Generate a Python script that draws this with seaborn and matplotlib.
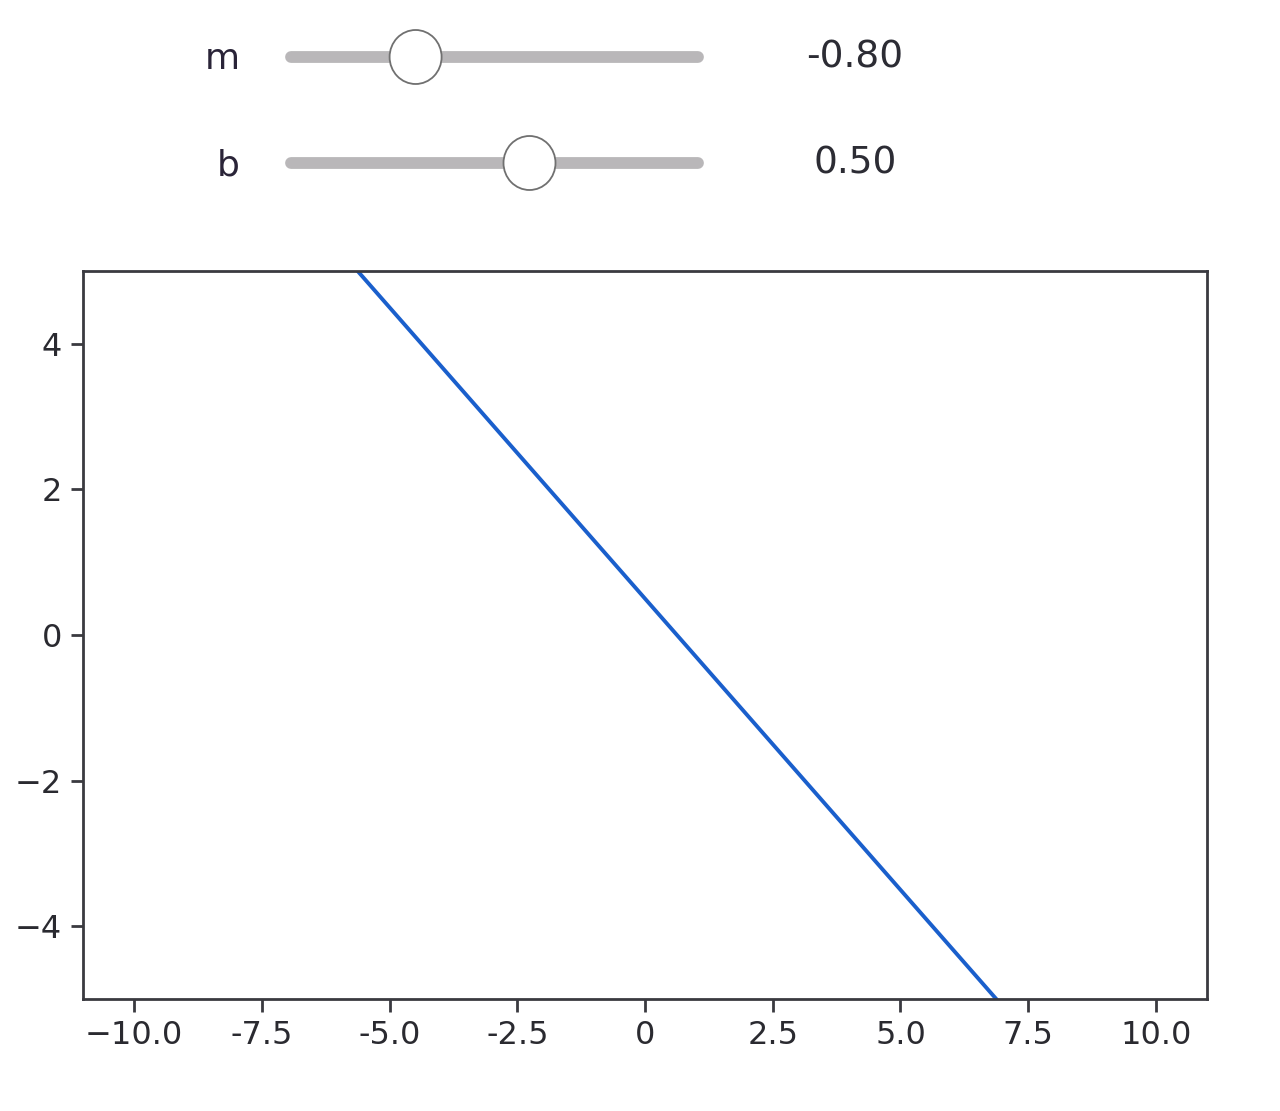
import numpy as np
import pandas as pd
import matplotlib
matplotlib.use('Agg')
import matplotlib.pyplot as plt
from matplotlib.patches import Ellipse
import seaborn as sns

# slider state
slider_names = ['m', 'b']
slider_values = [-0.80, 0.50]
slider_min = [-2.0, -3.0]
slider_max = [2.0, 3.0]

m = slider_values[0]
b = slider_values[1]
x_vals = np.linspace(-10, 10, 201)
data = pd.DataFrame({'x': x_vals, 'y': m * x_vals + b})

x_ticks = [-10.0, -7.5, -5.0, -2.5, 0, 2.5, 5.0, 7.5, 10.0]
x_tick_labels = ['\u221210.0', '-7.5', '-5.0', '-2.5', '0', '2.5', '5.0', '7.5', '10.0']
y_ticks = [-4, -2, 0, 2, 4]

sns.set_style('white')
plt.rcParams['font.family'] = ['DejaVu Sans']

W, H = 1280, 1111
fig = plt.figure(figsize=(W / 100, H / 100), dpi=100)

# widgets area in pixel coords
wax = fig.add_axes([0, 0, 1, 1])
wax.set_xlim(0, W)
wax.set_ylim(H, 0)
wax.axis('off')

track_x0, track_x1 = 291, 698
knob_x0, knob_x1 = 295, 697
rows_y = [57, 163]
for name, val, lo, hi, yy in zip(slider_names, slider_values, slider_min, slider_max, rows_y):
    wax.plot([track_x0, track_x1], [yy, yy], color='#b9b7b9', lw=8.5,
             solid_capstyle='round', zorder=1)
    kx = knob_x0 + (val - lo) / (hi - lo) * (knob_x1 - knob_x0)
    wax.add_patch(Ellipse((kx, yy), 52, 54, facecolor='white',
                          edgecolor='#707070', lw=1.3, zorder=2))
    wax.text(240, yy + 2, name, ha='right', va='center', fontsize=26, color='#2a2438')
    wax.text(855, yy, f'{val:.2f}', ha='center', va='center', fontsize=27, color='#2c2c34')

ax = fig.add_axes([83 / W, 1 - 999 / H, (1207 - 83) / W, (999 - 271) / H])
sns.lineplot(data=data, x='x', y='y', ax=ax, color='#1a5fcc', lw=2.8)
ax.set_xlim(-11, 11)
ax.set_ylim(-5, 5)
ax.set_xticks(x_ticks)
ax.set_xticklabels(x_tick_labels)
ax.set_yticks(y_ticks)
ax.set_xlabel('')
ax.set_ylabel('')
for s in ax.spines.values():
    s.set_color('#3a3a40')
    s.set_linewidth(2)
ax.tick_params(axis='both', which='both', bottom=True, left=True, length=9, width=2,
               color='#3a3a40', labelsize=23, labelcolor='#2a2a30', pad=6)

fig.savefig('out.png', dpi=100)
